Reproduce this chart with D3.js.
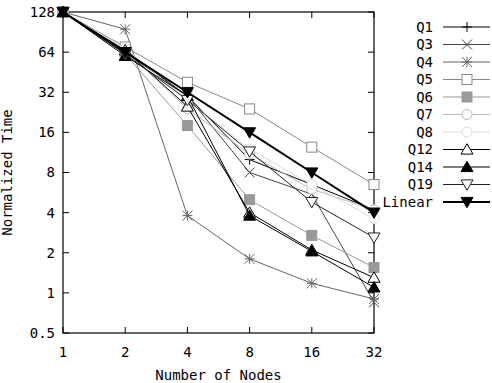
<!DOCTYPE html>
<html>
<head>
<meta charset="utf-8">
<script src="https://cdn.jsdelivr.net/npm/d3@7"></script>
<style>
  body { margin: 0; background: #fff; }
  text { font-family: "DejaVu Sans Mono", "Liberation Mono", monospace; font-size: 14px; }
</style>
</head>
<body>
<div id="chart"></div>
<script>
const width = 492;
const height = 383;

// data
const nodes = [1, 2, 4, 8, 16, 32];
const yTicks = [0.5, 1, 2, 4, 8, 16, 32, 64, 128];
const seriesNames = ["Q1", "Q3", "Q4", "Q5", "Q6", "Q7", "Q8", "Q12", "Q14", "Q19", "Linear"];
const q1 = [128, 66, 30, 10, 6.5, 4.2];
const q3 = [128, 64, 30, 8, 5.5, 0.85];
const q4 = [128, 95, 3.8, 1.8, 1.18, 0.9];
const q5 = [128, 70, 38, 24, 12.4, 6.5];
const q6 = [128, 62, 18, 5, 2.7, 1.55];
const q7 = [128, 66, 24, 11, 6, 4.2];
const q8 = [128, 68, 28, 12, 6.5, 3.6];
const q12 = [128, 66, 25, 4, 2.1, 1.3];
const q14 = [128, 60, 30, 3.8, 2.05, 1.1];
const q19 = [128, 62, 28, 11.5, 4.8, 2.6];
const linear = [128, 64, 32, 16, 8, 4];

const seriesValues = [q1, q3, q4, q5, q6, q7, q8, q12, q14, q19, linear];
// look of each series: colour, marker, line width
const styles = [
  { color: "#000", mark: "plus", lw: 1 },
  { color: "#444", mark: "cross", lw: 1 },
  { color: "#666", mark: "star", lw: 1 },
  { color: "#888", mark: "square", lw: 1 },
  { color: "#999", mark: "squareFill", lw: 1 },
  { color: "#bbb", mark: "circle", lw: 1 },
  { color: "#ddd", mark: "circle", lw: 1 },
  { color: "#000", mark: "tri", lw: 1 },
  { color: "#000", mark: "triFill", lw: 1 },
  { color: "#222", mark: "triDown", lw: 1 },
  { color: "#000", mark: "triDownFill", lw: 2 },
];

const margin = { left: 63, right: 118, top: 12, bottom: 50 };

const svg = d3.select("#chart").append("svg")
  .attr("width", width)
  .attr("height", height);

const x = d3.scaleLog().base(2).domain([1, 32]).range([margin.left, width - margin.right]);
const y = d3.scaleLog().base(2).domain([0.5, 128]).range([height - margin.bottom, margin.top]);

const x0 = x.range()[0], x1 = x.range()[1];
const y0 = y.range()[0], y1 = y.range()[1];

// ticks on all four sides, pointing inward
const tickLen = 6;
const g = svg.append("g");
nodes.forEach(n => {
  g.append("line").attr("x1", x(n)).attr("x2", x(n)).attr("y1", y0).attr("y2", y0 - tickLen).attr("stroke", "#000");
  g.append("line").attr("x1", x(n)).attr("x2", x(n)).attr("y1", y1).attr("y2", y1 + tickLen).attr("stroke", "#000");
  g.append("text").attr("x", x(n)).attr("y", y0 + 24).attr("text-anchor", "middle").text(n);
});
yTicks.forEach(t => {
  g.append("line").attr("x1", x0).attr("x2", x0 + tickLen).attr("y1", y(t)).attr("y2", y(t)).attr("stroke", "#000");
  g.append("line").attr("x1", x1).attr("x2", x1 - tickLen).attr("y1", y(t)).attr("y2", y(t)).attr("stroke", "#000");
  g.append("text").attr("x", x0 - 8).attr("y", y(t)).attr("dy", "0.35em").attr("text-anchor", "end").text(t);
});

g.append("rect").attr("x", x0).attr("y", y1).attr("width", x1 - x0).attr("height", y0 - y1)
  .attr("fill", "none").attr("stroke", "#000").attr("stroke-width", 1.2);

// axis titles
svg.append("text").attr("x", (x0 + x1) / 2).attr("y", height - 3).attr("text-anchor", "middle")
  .text("Number of Nodes");
svg.append("text").attr("transform", `translate(12, ${(y0 + y1) / 2}) rotate(-90)`)
  .attr("text-anchor", "middle").text("Normalized Time");

function drawMark(sel, type, color, cx, cy) {
  const s = 5;
  const m = sel.append("g").attr("transform", `translate(${cx},${cy})`);
  const ln = (a, b, c, d) => m.append("line").attr("x1", a).attr("y1", b).attr("x2", c).attr("y2", d)
    .attr("stroke", color).attr("stroke-width", 1);
  if (type === "plus") { ln(-s, 0, s, 0); ln(0, -s, 0, s); }
  else if (type === "cross") { ln(-s, -s, s, s); ln(-s, s, s, -s); }
  else if (type === "star") { ln(-s, 0, s, 0); ln(0, -s, 0, s); ln(-s, -s, s, s); ln(-s, s, s, -s); }
  else if (type === "square" || type === "squareFill") {
    m.append("rect").attr("x", -s).attr("y", -s).attr("width", 2 * s).attr("height", 2 * s)
      .attr("fill", type === "squareFill" ? color : "#fff").attr("stroke", color);
  } else if (type === "circle") {
    m.append("circle").attr("r", s).attr("fill", "#fff").attr("stroke", color);
  } else {
    const up = !type.startsWith("triDown");
    const h = s * 1.15;
    const pts = up ? [[0, -h], [s + 1, h * 0.8], [-s - 1, h * 0.8]] : [[0, h], [s + 1, -h * 0.8], [-s - 1, -h * 0.8]];
    m.append("path").attr("d", "M" + pts.join("L") + "Z")
      .attr("fill", type.endsWith("Fill") ? color : "#fff").attr("stroke", color);
  }
}

const line = d3.line().x((d, i) => x(nodes[i])).y(d => y(d));

const plot = svg.append("g");
seriesValues.forEach((vals, k) => {
  const st = styles[k];
  plot.append("path").datum(vals).attr("d", line)
    .attr("fill", "none").attr("stroke", st.color).attr("stroke-width", st.lw);
  vals.forEach((v, i) => drawMark(plot, st.mark, st.color, x(nodes[i]), y(v)));
});

// legend
const legX = 433, legY = 27, legStep = 17.5;
seriesNames.forEach((name, k) => {
  const st = styles[k];
  const ly = legY + k * legStep;
  svg.append("text").attr("x", legX).attr("y", ly).attr("dy", "0.35em").attr("text-anchor", "end").text(name);
  svg.append("line").attr("x1", legX + 10).attr("x2", legX + 57).attr("y1", ly).attr("y2", ly)
    .attr("stroke", st.color).attr("stroke-width", st.lw);
  drawMark(svg, st.mark, st.color, legX + 34, ly);
});
</script>
</body>
</html>
